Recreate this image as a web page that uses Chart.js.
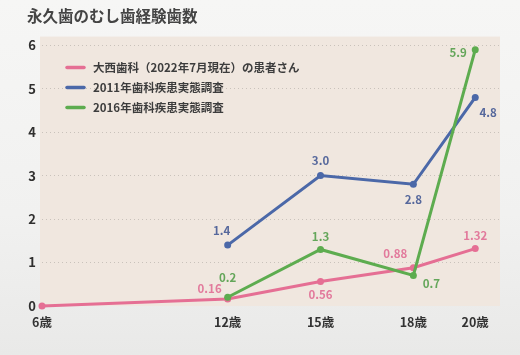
<!DOCTYPE html>
<html><head><meta charset="utf-8">
<script src="https://cdn.jsdelivr.net/npm/chart.js@4.4.1/dist/chart.umd.min.js"></script>
<style>
html,body{margin:0;padding:0;}
body{width:520px;height:355px;background:linear-gradient(180deg,#f6f6f5 0%,#f1f1f0 60%,#e9e9e8 100%);}
#wrap{width:520px;height:355px;position:relative;}
</style></head>
<body><div id="wrap"><canvas id="c" width="520" height="355"></canvas></div>
<script>
const titleText = "永久歯のむし歯経験歯数";
const ages = [6, 12, 15, 18, 20];
const ageLabels = ["6歳", "12歳", "15歳", "18歳", "20歳"];
const yTicks = [0, 1, 2, 3, 4, 5, 6];
const seriesNames = ["大西歯科（2022年7月現在）の患者さん", "2011年歯科疾患実態調査", "2016年歯科疾患実態調査"];
const ohnishi = [0, 0.16, 0.56, 0.88, 1.32];
const survey2011 = [null, 1.4, 3.0, 2.8, 4.8];
const survey2016 = [null, 0.2, 1.3, 0.7, 5.9];
const ohnishiLabels = [null, "0.16", "0.56", "0.88", "1.32"];
const survey2011Labels = [null, "1.4", "3.0", "2.8", "4.8"];
const survey2016Labels = [null, "0.2", "1.3", "0.7", "5.9"];

const FONT = "'Noto Sans CJK JP','Noto Sans',sans-serif";
function pts(vals){ const o=[]; vals.forEach((v,i)=>{ if(v!==null) o.push({x:ages[i], y:v}); }); return o; }

const lineCols = ["#e56f94", "#4b68a8", "#5dac4f"];
const textCols = ["#e27a9c", "#56689c", "#64a65a"];
// label offsets [dx, dy, align] per drawn point
const offsets = [
  [[0,0,'center'],[-6,-10,'right'],[0,13,'center'],[-18,-14,'center'],[0,-13,'center']],
  [[-6,-14,'center'],[0,-15,'center'],[0,15,'center'],[13,15,'center']],
  [[0,-20,'center'],[0,-13,'center'],[18,8,'center'],[-17,3,'center']]
];
const labelSets = [ohnishiLabels, survey2011Labels.filter(v=>v!==null), survey2016Labels.filter(v=>v!==null)];

const bgPlugin = {
  id:'bg',
  beforeDraw(chart){
    const {ctx, chartArea:a} = chart;
    ctx.save();
    ctx.fillStyle = '#f0e7df';
    ctx.fillRect(a.left-2, a.top, a.right-a.left+2, a.bottom-a.top-6);
    ctx.restore();
  }
};
const legendPlugin = {
  id:'customLegend',
  afterDraw(chart){
    const {ctx, chartArea:a} = chart;
    ctx.save();
    ctx.font = "bold 11.5px " + FONT;
    ctx.textBaseline = 'middle';
    chart.data.datasets.forEach((ds,i)=>{
      const y = a.top + 31 + i*20;
      ctx.strokeStyle = ds.borderColor; ctx.lineWidth = 3.5; ctx.lineCap='round';
      ctx.beginPath(); ctx.moveTo(a.left+25, y); ctx.lineTo(a.left+42, y); ctx.stroke();
      ctx.fillStyle = '#3d3d3d';
      ctx.fillText(ds.label, a.left+51, y);
    });
    ctx.restore();
  }
};
const dataLabelPlugin = {
  id:'dataLabels',
  afterDatasetsDraw(chart){
    const {ctx} = chart;
    ctx.save();
    ctx.font = "bold 11.5px " + FONT;
    ctx.textBaseline = 'middle';
    chart.data.datasets.forEach((ds,i)=>{
      const meta = chart.getDatasetMeta(i);
      meta.data.forEach((el,j)=>{
        const t = labelSets[i][j];
        if(!t) return;
        const [dx,dy,al] = offsets[i][j];
        ctx.textAlign = al;
        ctx.fillStyle = textCols[i];
        ctx.fillText(t, el.x+dx, el.y+dy);
      });
    });
    ctx.restore();
  }
};

new Chart(document.getElementById('c'), {
  type:'line',
  data:{
    datasets:[
      {label:seriesNames[0], data:pts(ohnishi), borderColor:lineCols[0], backgroundColor:lineCols[0], borderWidth:3, pointRadius:3.5, pointBorderWidth:0, tension:0, order:3},
      {label:seriesNames[1], data:pts(survey2011), borderColor:lineCols[1], backgroundColor:lineCols[1], borderWidth:3, pointRadius:3.5, pointBorderWidth:0, tension:0, order:2},
      {label:seriesNames[2], data:pts(survey2016), borderColor:lineCols[2], backgroundColor:lineCols[2], borderWidth:3, pointRadius:3.5, pointBorderWidth:0, tension:0, order:1}
    ]
  },
  options:{
    responsive:false, animation:false,
    layout:{padding:{left:27, right:20, top:0, bottom:22}},
    clip:false,
    plugins:{
      legend:{display:false},
      tooltip:{enabled:false},
      title:{display:true, text:titleText, align:'start', color:'#444', font:{family:FONT, size:15.5, weight:'bold'}, padding:{top:7, bottom:11}}
    },
    scales:{
      x:{
        type:'linear', min:6, max:20.8,
        afterBuildTicks(s){ s.ticks = ages.map(v=>({value:v})); },
        ticks:{callback:(v)=>ageLabels[ages.indexOf(v)] || '', color:'#333', font:{family:FONT, size:12.5, weight:'bold'}, padding:3, maxRotation:0, autoSkip:false},
        grid:{display:false, drawTicks:false}, border:{display:false}
      },
      y:{
        min:-0.14, max:6.2,
        afterBuildTicks(s){ s.ticks = yTicks.map(v=>({value:v})); },
        afterFit(s){ s.width = 15; },
        ticks:{color:'#2f2f2f', font:{family:FONT, size:13, weight:'bold'}, padding:6},
        grid:{color:(c)=> c.tick && c.tick.value===0 ? 'rgba(0,0,0,0)' : '#c9c2bb', lineWidth:1, drawTicks:false},
        border:{display:false, dash:[1,3]}
      }
    }
  },
  plugins:[bgPlugin, legendPlugin, dataLabelPlugin]
});
</script></body></html>
